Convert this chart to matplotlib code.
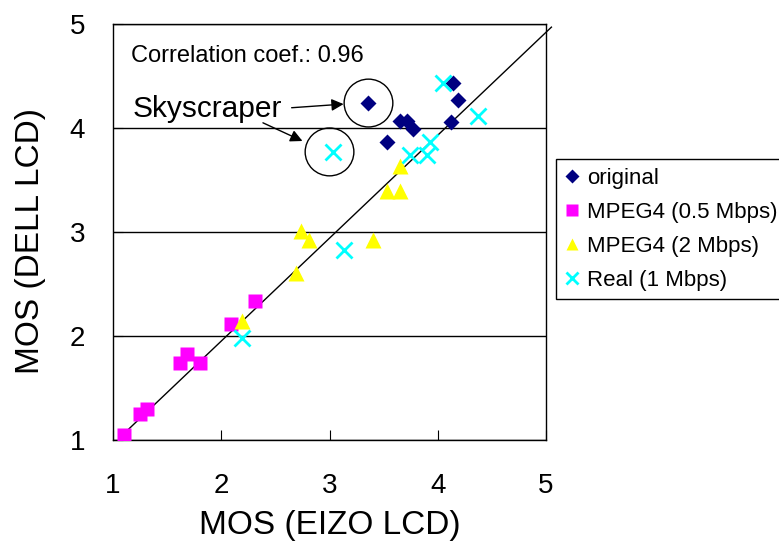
import matplotlib.pyplot as plt
from matplotlib.patches import Ellipse

plt.rcParams['font.family'] = ['Liberation Sans', 'DejaVu Sans']

# MOS values (EIZO LCD = x, DELL LCD = y)
orig_x = [4.14, 4.19, 3.36, 3.65, 3.72, 3.77, 4.12, 3.53]
orig_y = [4.43, 4.27, 4.24, 4.07, 4.07, 3.99, 4.06, 3.87]

mp05_x = [2.31, 2.09, 1.68, 1.62, 1.80, 1.31, 1.25, 1.10]
mp05_y = [2.34, 2.12, 1.83, 1.74, 1.74, 1.30, 1.25, 1.05]

mp2_x = [3.65, 3.53, 3.65, 2.74, 2.81, 3.40, 2.69, 2.19]
mp2_y = [3.63, 3.39, 3.39, 3.01, 2.92, 2.92, 2.61, 2.14]

real_x = [4.05, 4.37, 3.03, 3.93, 3.74, 3.90, 3.13, 2.19]
real_y = [4.43, 4.12, 3.77, 3.87, 3.74, 3.74, 2.83, 1.98]

# regression line end points
fit_x = [1.14, 5.05]
fit_y = [1.10, 4.97]

ticks = [1, 2, 3, 4, 5]

fig = plt.figure(figsize=(7.79, 5.51), dpi=100)
ax = fig.add_axes([0.1451, 0.2015, 0.5558, 0.7549])

ax.plot(fit_x, fit_y, color='black', lw=1, clip_on=False, zorder=2)

ax.plot(orig_x, orig_y, 'D', color='#000080', ms=8, mec='none', label='original', zorder=3)
ax.plot(mp05_x, mp05_y, 's', color='#ff00ff', ms=10, mec='none', label='MPEG4 (0.5 Mbps)', zorder=3)
ax.plot(mp2_x, mp2_y, '^', color='#ffff00', ms=11, mec='none', label='MPEG4 (2 Mbps)', zorder=3)
ax.plot(real_x, real_y, 'x', color='#00ffff', ms=11, mew=2, label='Real (1 Mbps)', zorder=3)

ax.set_xlim(1, 5)
ax.set_ylim(1, 5)
ax.set_xticks(ticks)
ax.set_yticks(ticks)
ax.tick_params(axis='x', direction='in', length=7, labelsize=20, pad=24)
ax.tick_params(axis='y', direction='in', length=7, labelsize=20, pad=20)
ax.yaxis.grid(True, color='black', lw=1)
ax.set_axisbelow(True)
for s in ax.spines.values():
    s.set_linewidth(1)

ax.set_xlabel('MOS (EIZO LCD)', fontsize=24, labelpad=8)
ax.set_ylabel('MOS (DELL LCD)', fontsize=24)
ax.yaxis.set_label_coords(-0.155, 0.478)

# annotations
ax.text(1.17, 4.69, 'Correlation coef.: 0.96', fontsize=17, va='center', ha='left')
ax.text(1.185, 4.18, 'Skyscraper', fontsize=21.5, va='center', ha='left')
ax.add_patch(Ellipse((3.36, 4.24), 0.45, 0.46, fill=False, ec='black', lw=1))
ax.add_patch(Ellipse((3.00, 3.77), 0.45, 0.46, fill=False, ec='black', lw=1))
ax.annotate('', xy=(3.13, 4.23), xytext=(2.65, 4.195),
            arrowprops=dict(arrowstyle='-|>', color='black', lw=1, mutation_scale=18, shrinkA=0, shrinkB=0))
ax.annotate('', xy=(2.75, 3.875), xytext=(2.385, 4.05),
            arrowprops=dict(arrowstyle='-|>', color='black', lw=1, mutation_scale=18, shrinkA=0, shrinkB=0))

leg = fig.legend(loc='upper left', bbox_to_anchor=(0.7137, 0.7114), fontsize=16,
                 frameon=True, fancybox=False, edgecolor='black', framealpha=1,
                 handlelength=0.6, handletextpad=0.4, labelspacing=0.58,
                 borderpad=0.4, borderaxespad=0, numpoints=1, markerscale=0.85)
leg.get_frame().set_linewidth(1)

fig.savefig('out.png', dpi=100)
